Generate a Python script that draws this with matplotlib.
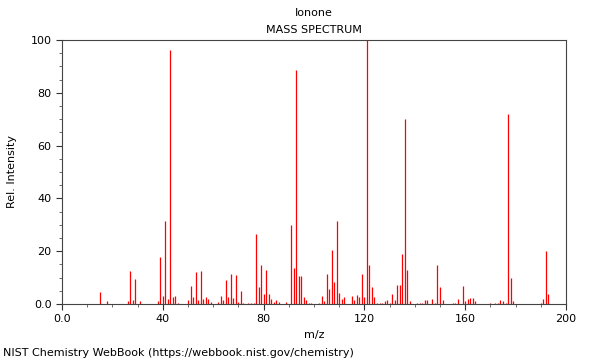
import matplotlib
matplotlib.use("Agg")
import matplotlib.pyplot as plt
from matplotlib.ticker import MultipleLocator, FuncFormatter

# Ionone mass spectrum
mz = [15, 18, 26, 27, 28, 29, 31, 38, 39, 40, 41, 42, 43, 44, 45, 46, 50,
      51, 52, 53, 54, 55, 56, 57, 58, 59, 62, 63, 64, 65, 66, 67, 68, 69, 70,
      71, 72, 74, 75, 76, 77, 78, 79, 80, 81, 82, 83, 84, 85, 86, 89, 91, 92,
      93, 94, 95, 96, 97, 98, 99, 102, 103, 104, 105, 106, 107, 108, 109, 110,
      111, 112, 115, 116, 117, 118, 119, 120, 121, 122, 123, 124, 125, 126,
      127, 128, 129, 130, 131, 132, 133, 134, 135, 136, 137, 138, 141, 142,
      143, 144, 145, 147, 148, 149, 150, 151, 155, 156, 157, 159, 160, 161,
      162, 163, 164, 170, 172, 173, 174, 175, 176, 177, 178, 179, 190, 191,
      192, 193]
intensity = [4.4, 1.0, 1.0, 12.5, 1.5, 9.5, 1.0, 1.0, 17.8, 3.2, 31.6, 2.0,
             96.2, 2.6, 3.0, 0.5, 1.7, 6.9, 2.5, 12.1, 1.5, 12.6, 2.0, 2.6,
             2.0, 0.7, 0.7, 3.0, 1.5, 9.1, 2.5, 11.4, 2.4, 11.1, 0.8, 4.8,
             0.5, 0.5, 0.5, 0.5, 26.6, 6.4, 14.8, 3.8, 12.9, 3.7, 2.0, 0.8,
             1.5, 0.7, 0.7, 29.9, 13.8, 88.6, 10.6, 10.6, 2.6, 1.7, 0.3, 0.3,
             0.5, 3.0, 1.0, 11.4, 5.6, 20.5, 8.3, 31.4, 4.3, 2.0, 2.7, 3.0,
             1.5, 3.5, 2.5, 11.4, 2.7, 100.0, 14.9, 6.3, 2.5, 0.5, 0.5, 0.5,
             1.0, 1.5, 0.5, 3.7, 1.7, 7.3, 7.3, 18.9, 70.1, 12.9, 1.0, 0.5,
             0.5, 0.5, 1.5, 1.5, 2.0, 0.5, 14.8, 6.6, 1.5, 0.5, 0.5, 2.0, 7.0,
             1.0, 2.0, 2.3, 2.1, 1.0, 0.5, 0.5, 0.5, 1.5, 1.0, 0.5, 72.0, 9.8,
             1.0, 0.5, 2.0, 20.0, 3.7]

fig = plt.figure(figsize=(6, 3.6), dpi=100)
ax = fig.add_axes([62 / 600, 1 - 304 / 360, 504 / 600, 264 / 360])

ax.vlines(mz, 0, intensity, colors="#ff0000", linewidth=0.9)

ax.set_xlim(0, 200)
ax.set_ylim(0, 100)
ax.xaxis.set_major_locator(MultipleLocator(40))
ax.xaxis.set_minor_locator(MultipleLocator(10))
ax.yaxis.set_major_locator(MultipleLocator(20))
ax.yaxis.set_minor_locator(MultipleLocator(5))
fmt = FuncFormatter(lambda v, p: "0.0" if v == 0 else "%d" % v)
ax.xaxis.set_major_formatter(fmt)
ax.yaxis.set_major_formatter(fmt)
ax.tick_params(labelsize=8, length=4, width=0.8, color="#333333")
ax.tick_params(which="minor", length=2, width=0.6, color="#555555")
for s in ax.spines.values():
    s.set_color("#444444")
    s.set_linewidth(0.8)

ax.set_xlabel("m/z", fontsize=8)
ax.set_ylabel("Rel. Intensity", fontsize=8)
ax.yaxis.set_label_coords(-0.09, 0.5)
fig.text(314 / 600, 1 - 13 / 360, "Ionone", ha="center", va="center", fontsize=8)
fig.text(314 / 600, 1 - 30 / 360, "MASS SPECTRUM", ha="center", va="center", fontsize=8)
fig.text(3 / 600, 1 - 353 / 360, "NIST Chemistry WebBook (https://webbook.nist.gov/chemistry)",
         ha="left", va="center", fontsize=8)

fig.savefig("out.png", dpi=100)
